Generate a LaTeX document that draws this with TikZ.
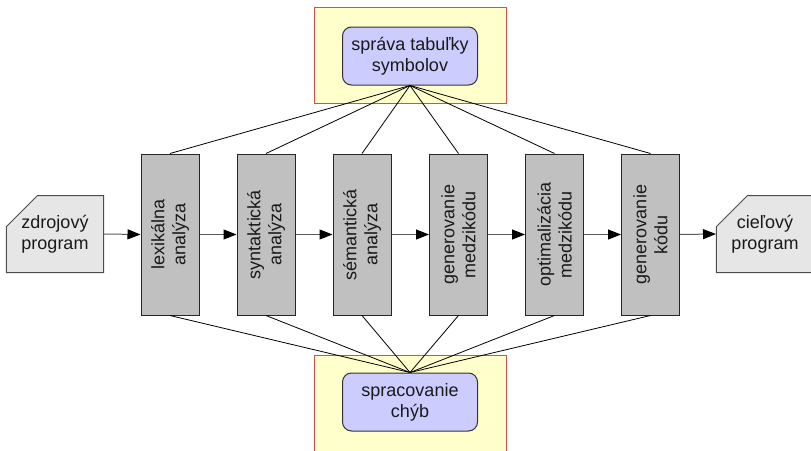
\documentclass[tikz,border=0pt]{standalone}
\usepackage{fontspec}
\setmainfont{Liberation Sans}
\usetikzlibrary{arrows.meta,shapes.misc}
\definecolor{grayfill}{HTML}{C0C0C0}
\definecolor{docfill}{HTML}{E6E6E6}
\definecolor{purplefill}{HTML}{CCCCFF}
\definecolor{yellowfill}{HTML}{FFFFCC}
\definecolor{redline}{HTML}{D05050}
\definecolor{txt}{HTML}{1A1A1A}
\tikzset{
  every node/.style={font=\fontsize{18}{21}\selectfont, text=txt, align=center, inner sep=0pt},
  yellowbox/.style={draw=redline, fill=yellowfill, line width=1pt, minimum width=192, minimum height=96},
  purplebox/.style={draw=black!80, fill=purplefill, line width=1pt, rounded corners=9pt, minimum width=135, minimum height=58},
  phasebox/.style={draw=black!85, fill=grayfill, line width=1pt, rotate=90, minimum width=161, minimum height=58},
  docbox/.style={draw=black!70, fill=docfill, line width=1pt, chamfered rectangle, chamfered rectangle corners=north west, chamfered rectangle xsep=15pt, chamfered rectangle ysep=16pt, minimum width=96, minimum height=77},
  flow/.style={draw=black!65, line width=1pt, -{Triangle[length=13pt,width=10pt,color=black]}},
  fan/.style={draw=black, line width=0.8pt}
}
\begin{document}
\begin{tikzpicture}[x=1pt,y=-1pt]
\useasboundingbox (0,0) rectangle (811,450);
\begin{scope}
\clip (0,0) rectangle (811,450);
\node[yellowbox] (ytop) at (410,55.5) {};
\node[yellowbox, minimum height=100] (ybot) at (410,405) {};
\node[phasebox] (p1) at (170,234.5) {lexikálna\\analýza};
\node[phasebox] (p2) at (266,234.5) {syntaktická\\analýza};
\node[phasebox] (p3) at (362,234.5) {sémantická\\analýza};
\node[phasebox] (p4) at (458.5,234.5) {generovanie\\medzikódu};
\node[phasebox] (p5) at (554.5,234.5) {optimalizácia\\medzikódu};
\node[phasebox] (p6) at (650.5,234.5) {generovanie\\kódu};
\node[purplebox] (sym) at (410,56) {správa tabuľky\\symbolov};
\node[purplebox] (err) at (410,402) {spracovanie\\chýb};
\foreach \p in {p1,p2,p3,p4,p5,p6} {
  \draw[fan] (sym.south) -- (\p.east);
  \draw[fan] (\p.west) -- (err.north);
}
\node[docbox] (src) at (55,234) {zdrojový\\program};
\node[docbox] (dst) at (765,234) {cieľový\\program};
\draw[flow] (src.east) -- (p1.north);
\draw[flow] (p1.south) -- (p2.north);
\draw[flow] (p2.south) -- (p3.north);
\draw[flow] (p3.south) -- (p4.north);
\draw[flow] (p4.south) -- (p5.north);
\draw[flow] (p5.south) -- (p6.north);
\draw[flow] (p6.south) -- (dst.west);
\end{scope}
\end{tikzpicture}
\end{document}
